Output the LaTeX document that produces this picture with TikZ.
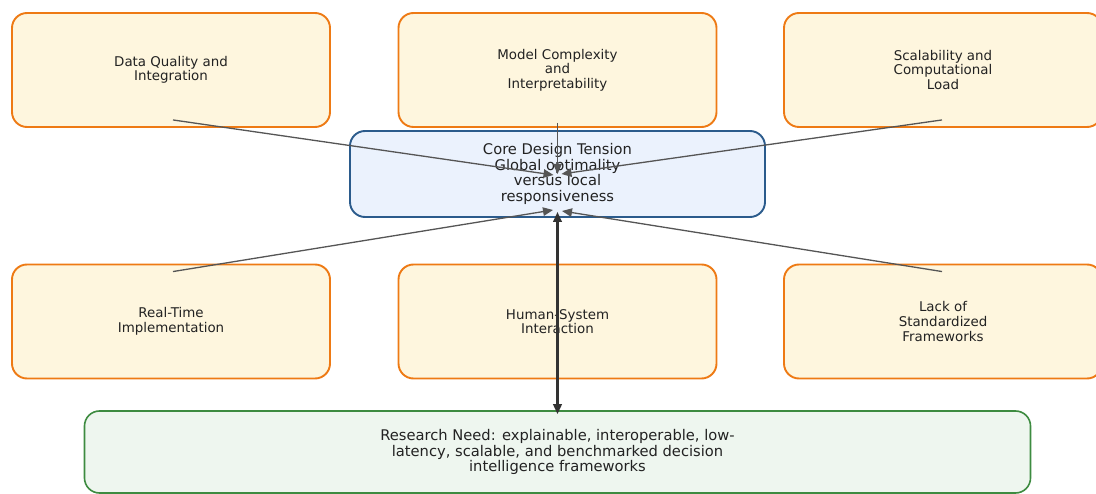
\documentclass[tikz,border=0pt]{standalone}
\usepackage{fontspec}
\setmainfont{DejaVu Sans}
\usetikzlibrary{arrows.meta,calc}

\definecolor{issueline}{HTML}{EE7A14}
\definecolor{issuefill}{HTML}{FEF6DE}
\definecolor{coreline}{HTML}{2B5B8C}
\definecolor{corefill}{HTML}{EBF2FD}
\definecolor{needline}{HTML}{3D8B40}
\definecolor{needfill}{HTML}{EEF6EF}
\definecolor{linkgray}{HTML}{555555}
\definecolor{linkdark}{HTML}{333333}
\definecolor{ink}{HTML}{222222}

\tikzset{
  issue/.style={draw=issueline, fill=issuefill, line width=1.9pt, rounded corners=15pt,
    minimum width=318pt, minimum height=114pt, align=center, text=ink,
    font=\fontsize{13.4}{14.6}\selectfont, inner sep=0pt},
  core/.style={draw=coreline, fill=corefill, line width=1.9pt, rounded corners=15pt,
    minimum width=415pt, minimum height=86pt, align=center, text=ink,
    font=\fontsize{14.7}{15.7}\selectfont, inner sep=0pt},
  need/.style={draw=needline, fill=needfill, line width=1.6pt, rounded corners=15pt,
    minimum width=946pt, minimum height=82pt, align=center, text=ink,
    font=\fontsize{14.7}{15.2}\selectfont, inner sep=0pt},
  link/.style={draw=linkgray, line width=1.3pt, -{Triangle[length=10pt,width=8.5pt]}},
  mainlink/.style={draw=linkdark, line width=2.2pt,
    {Triangle[length=10pt,width=8.5pt]}-{Triangle[length=10pt,width=8.5pt]}},
}

\begin{document}
\begin{tikzpicture}[x=1pt,y=-1pt]
  \fill[white] (0,0) rectangle (1096,494);
  \useasboundingbox (0,0) rectangle (1096,494);

  % challenge boxes, upper row
  \node[issue] (dq) at (171,70) {Data Quality and\\Integration};
  \node[issue] (mc) at (557.5,70) {Model Complexity\\and\\Interpretability};
  \node[issue] (sc) at (943,70) {Scalability and\\Computational\\Load};

  % central tension
  \node[core] (ct) at (557.5,174) {Core Design Tension\\Global optimality\\versus local\\responsiveness};

  % challenge boxes, lower row
  \node[issue] (rt) at (171,321.5) {Real-Time\\Implementation};
  \node[issue] (hs) at (557.5,321.5) {Human-System\\Interaction};
  \node[issue] (lf) at (943,321.5) {Lack of\\Standardized\\Frameworks};

  % research need
  \node[need] (rn) at (557.5,452) {Research Need: explainable, interoperable, low-\\latency, scalable, and benchmarked decision\\intelligence frameworks};

  % connectors into the central tension
  \draw[link] ($(dq.south)+(2,-8)$) -- ($(ct.center)+(-4,1)$);
  \draw[link] ($(mc.south)+(0,-5)$) -- ($(ct.center)+(0,0)$);
  \draw[link] ($(sc.south)+(-1,-8)$) -- ($(ct.center)+(4,0)$);
  \draw[link] ($(rt.north)+(2,8)$) -- ($(ct.center)+(-4.5,36)$);
  \draw[link] ($(lf.north)+(-1,8)$) -- ($(ct.center)+(4.5,37)$);

  % link between tension and research need
  \draw[mainlink] ($(ct.south)+(0,-6)$) -- ($(rn.north)+(0,4)$);
\end{tikzpicture}
\end{document}
